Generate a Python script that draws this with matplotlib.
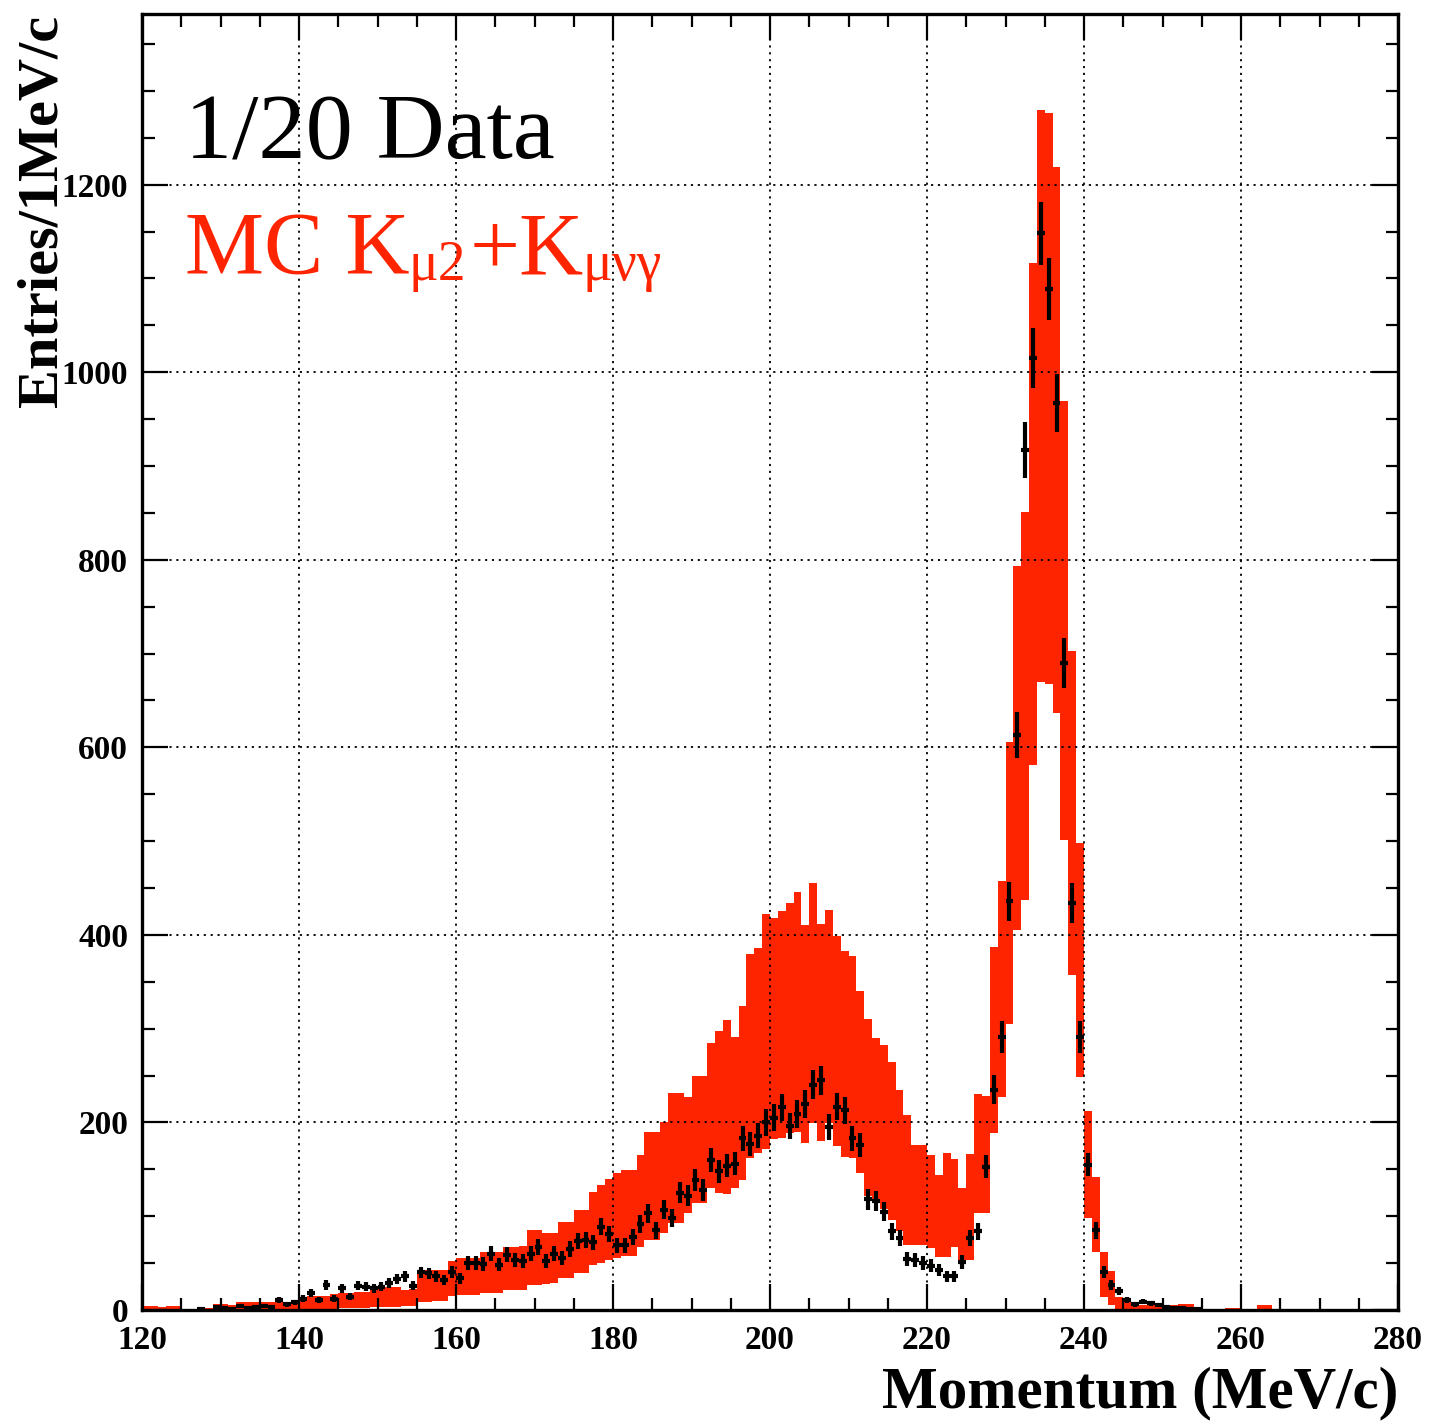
import numpy as np
import matplotlib
matplotlib.use("Agg")
import matplotlib.pyplot as plt
from matplotlib.ticker import MultipleLocator

# ---------------- data ----------------
bin_edges_start = 120  # first bin low edge (MeV/c), 1 MeV/c bins
# MC band (lower / upper) per 1 MeV/c bin, bins 120..279
mc_lower = [0, 0, 0, 0, 0, 0, 0, 0, 0, 0,            # 120-129
            0, 0, 0, 0, 0, 0, 0, 0, 0, 0,            # 130-139
            0, 1, 1, 1, 1, 2, 2, 2, 2, 3,            # 140-149
            3, 3, 3, 4, 4, 9, 9, 10, 10, 15,         # 150-159
            16, 16, 16, 18, 18, 18, 21, 21, 21, 27,  # 160-169
            27, 28, 29, 34, 34, 39, 39, 48, 50, 53,  # 170-179
            55, 58, 58, 67, 75, 75, 82, 93, 93, 103, # 180-189
            114, 114, 130, 125, 124, 130, 139, 162, 167, 172,  # 190-199
            182, 183, 189, 190, 178, 199, 180, 199, 175, 163,  # 200-209
            162, 146, 122, 115, 108, 96, 84, 69, 69, 69,       # 210-219
            66, 57, 57, 67, 50, 53, 103, 103, 189, 227,        # 220-229
            305, 405, 437, 581, 670, 668, 637, 501, 357, 248,  # 230-239
            98, 62, 14, 5, 0, 0, 0, 0, 0, 0,                   # 240-249
            0, 0, 0, 0, 0, 0, 0, 0, 0, 0,                      # 250-259
            0, 0, 0, 0, 0, 0, 0, 0, 0, 0,                      # 260-269
            0, 0, 0, 0, 0, 0, 0, 0, 0, 0]                      # 270-279
mc_upper = [4, 4, 3, 4, 4, 1, 1, 1, 2, 6,            # 120-129
            6, 5, 8, 8, 8, 9, 8, 9, 9, 11,           # 130-139
            11, 15, 15, 15, 17, 18, 18, 19, 19, 25,  # 140-149
            25, 25, 25, 21, 22, 43, 43, 43, 43, 52,  # 150-159
            55, 55, 55, 62, 62, 62, 67, 67, 68, 85,  # 160-169
            85, 82, 82, 94, 94, 107, 107, 126, 133, 140,   # 170-179
            146, 149, 149, 165, 190, 190, 201, 231, 231, 227,  # 180-189
            249, 249, 285, 297, 309, 291, 324, 380, 386, 422,  # 190-199
            418, 425, 434, 446, 411, 455, 412, 427, 399, 383,  # 200-209
            377, 340, 310, 290, 283, 264, 235, 208, 176, 176,  # 210-219
            165, 144, 167, 161, 130, 166, 230, 228, 387, 458,  # 220-229
            606, 793, 851, 1117, 1280, 1276, 1219, 969, 703, 498,  # 230-239
            212, 142, 62, 42, 14, 8, 5, 5, 6, 6,               # 240-249
            5, 5, 6, 6, 1, 1, 1, 1, 2, 2,                      # 250-259
            1, 1, 5, 5, 1, 0, 0, 0, 0, 0,                      # 260-269
            0, 0, 0, 0, 0, 0, 0, 0, 0, 0]                      # 270-279
# 1/20 data, entries per bin (bins 120..279)
data_counts = [0, 0, 0, 0, 0, 0, 0, 1, 0, 3,          # 120-129
               2, 1, 4, 2, 3, 4, 3, 11, 6, 8,         # 130-139
               12, 18, 11, 27, 12, 23, 14, 26, 25, 23,  # 140-149
               25, 29, 33, 36, 26, 40, 39, 36, 32, 41,  # 150-159
               34, 50, 50, 49, 60, 48, 59, 53, 52, 60,  # 160-169
               67, 52, 60, 55, 65, 74, 75, 72, 89, 81,  # 170-179
               69, 69, 78, 92, 103, 85, 107, 98, 125, 122,    # 180-189
               139, 128, 160, 148, 154, 156, 183, 177, 186, 200,  # 190-199
               205, 216, 196, 209, 220, 240, 245, 195, 217, 213,  # 200-209
               183, 176, 118, 116, 105, 84, 77, 54, 53, 50,       # 210-219
               47, 43, 36, 36, 51, 77, 84, 153, 235, 291,         # 220-229
               436, 613, 917, 1015, 1148, 1089, 967, 690, 434, 291,  # 230-239
               155, 85, 41, 27, 20, 11, 6, 9, 7, 5,               # 240-249
               3, 2, 2, 1, 1, 0, 0, 0, 0, 0,                      # 250-259
               0, 0, 0, 0, 0, 0, 0, 0, 0, 0,                      # 260-269
               0, 0, 0, 0, 0, 0, 0, 0, 0, 0]                      # 270-279
x_ticks = [120, 140, 160, 180, 200, 220, 240, 260, 280]
y_ticks = [0, 200, 400, 600, 800, 1000, 1200]

# ---------------- style ----------------
RED = "#ff2400"
SERIF = ["Liberation Serif", "DejaVu Serif"]

W, H = 1430, 1423
fig = plt.figure(figsize=(W / 100, H / 100), dpi=100)
L, R, T, B = 142, 1398, 14, 1310
ax = fig.add_axes([L / W, (H - B) / H, (R - L) / W, (B - T) / H])

nb = len(mc_lower)
lefts = np.arange(nb) + bin_edges_start
lo = np.array(mc_lower, float)
up = np.array(mc_upper, float)
ax.bar(lefts, up - lo, bottom=lo, width=1.0, align="edge",
       color=RED, linewidth=0, zorder=1)

ax.set_axisbelow(False)
ax.grid(True, which="major", color="black", linestyle=(0, (1.2, 2.6)),
        linewidth=1.3, zorder=2)

cnt = np.array(data_counts, float)
centers = lefts + 0.5
m = cnt > 0
ax.errorbar(centers[m], cnt[m], yerr=np.sqrt(cnt[m]), xerr=0.5,
            fmt="none", ecolor="black", elinewidth=3.0, capsize=0, zorder=3)

ax.set_xlim(120, 280)
ax.set_ylim(0, 1382)
ax.set_xticks(x_ticks)
ax.set_yticks(y_ticks)
ax.xaxis.set_minor_locator(MultipleLocator(5))
ax.yaxis.set_minor_locator(MultipleLocator(50))
ax.tick_params(which="both", direction="in", top=True, right=True, width=1.6)
ax.tick_params(which="major", length=19)
ax.tick_params(which="minor", length=9)
ax.tick_params(axis="y", pad=10)
ax.tick_params(axis="x", pad=11)
for lab in ax.get_xticklabels() + ax.get_yticklabels():
    lab.set_fontfamily(SERIF)
    lab.set_fontweight("bold")
    lab.set_fontsize(24)
for sp in ax.spines.values():
    sp.set_linewidth(2.4)
    sp.set_zorder(5)

fig.text(43 / W, (H - 15) / H, "Entries/1MeV/c", rotation=90, ha="center",
         va="top", fontsize=42, fontweight="bold", family=SERIF)
fig.text(R / W, 3 / H, "Momentum (MeV/c)", ha="right", va="bottom",
         fontsize=42.5, fontweight="bold", family=SERIF)

fig.text(185 / W, (H - 158) / H, "1/20 Data", ha="left", va="baseline",
         fontsize=68, family=SERIF, color="black")

# "MC K_{mu2}+K_{mu nu gamma}" built from pieces
renderer = fig.canvas.get_renderer()
pieces = [("MC K", 64, 0, -1), ("\u03bc2", 40, -7, 3),
          ("+K", 64, 0, -1), ("\u03bc\u03bd\u03b3", 40, -7, 0)]
x_px = 185.0
base_px = H - 273.0
for txt, fs, dy, gap in pieces:
    t = fig.text(x_px / W, (base_px + dy) / H, txt, ha="left", va="baseline",
                 fontsize=fs, family=SERIF, color=RED)
    bb = t.get_window_extent(renderer=renderer)
    x_px = bb.x1 + gap

fig.savefig("out.png", dpi=100)
